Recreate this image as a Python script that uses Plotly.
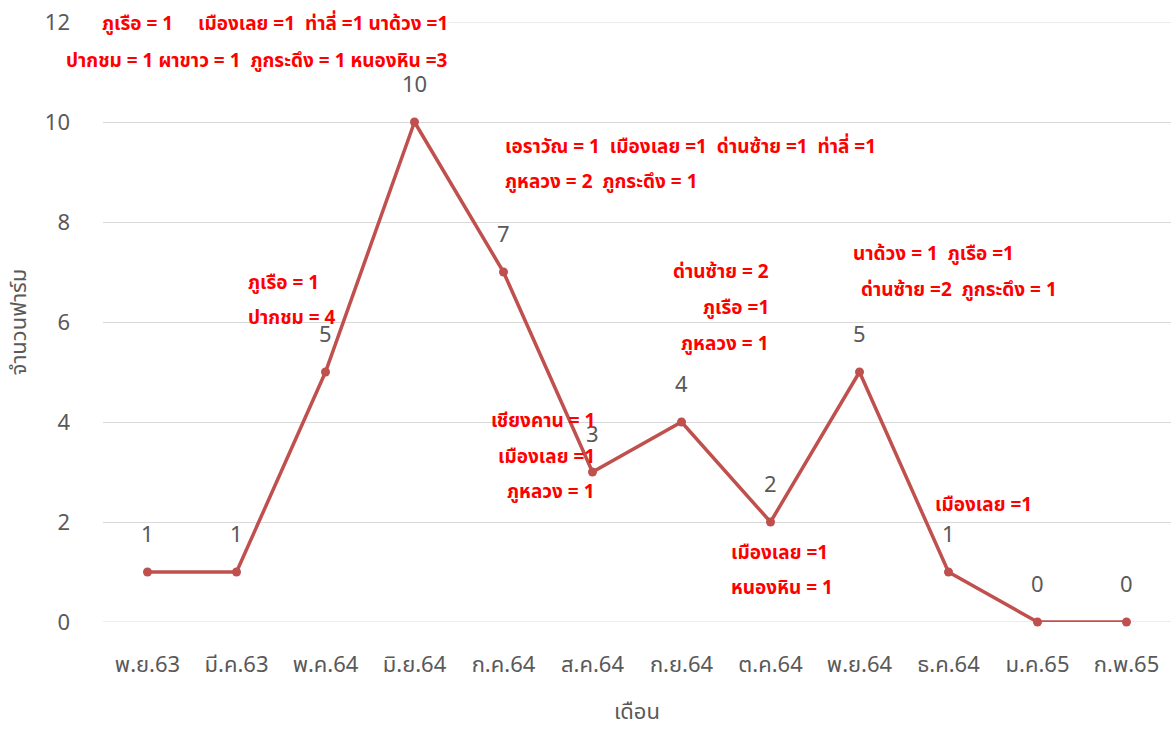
import plotly.graph_objects as go

months = ["พ.ย.63", "มี.ค.63", "พ.ค.64", "มิ.ย.64", "ก.ค.64", "ส.ค.64",
          "ก.ย.64", "ต.ค.64", "พ.ย.64", "ธ.ค.64", "ม.ค.65", "ก.พ.65"]
farms = [1, 1, 5, 10, 7, 3, 4, 2, 5, 1, 0, 0]
y_ticks = [0, 2, 4, 6, 8, 10, 12]

note_texts = [
    "ภูเรือ = 1     เมืองเลย =1  ท่าลี่ =1 นาด้วง =1",
    "ปากชม = 1 ผาขาว = 1  ภูกระดึง = 1 หนองหิน =3",
    "เอราวัณ = 1  เมืองเลย =1  ด่านซ้าย =1  ท่าลี่ =1",
    "ภูหลวง = 2  ภูกระดึง = 1",
    "ภูเรือ = 1",
    "ปากชม = 4",
    "เชียงคาน = 1",
    "เมืองเลย =1",
    "ภูหลวง = 1",
    "ด่านซ้าย = 2",
    "ภูเรือ =1",
    "ภูหลวง = 1",
    "นาด้วง = 1  ภูเรือ =1",
    "ด่านซ้าย =2  ภูกระดึง = 1",
    "เมืองเลย =1",
    "เมืองเลย =1",
    "หนองหิน = 1",
]
# anchor (x in category index, y in data units, horizontal anchor, white box)
note_anchor = [
    (3.39, 11.96, "right", True), (3.39, 11.22, "right", False),
    (4.01, 9.5, "left", False), (4.01, 8.8, "left", False),
    (1.12, 6.78, "left", False), (1.12, 6.08, "left", False),
    (5.04, 4.02, "right", False), (5.04, 3.3, "right", False), (5.04, 2.6, "right", False),
    (6.99, 7.0, "right", False), (6.99, 6.28, "right", False), (6.99, 5.56, "right", False),
    (7.92, 7.36, "left", False), (8.0, 6.64, "left", False),
    (8.84, 2.34, "left", False),
    (6.55, 1.38, "left", False), (6.55, 0.68, "left", False),
]

FONT = "Noto Sans Thai, Noto Sans, sans-serif"
GRAY = "#595959"
RED_LINE = "#C0504D"
GRID = "#D9D9D9"

fig = go.Figure()

# explicit gridlines at the range ends (plotly omits edge gridlines)
for yv in (y_ticks[0], y_ticks[-1]):
    fig.add_shape(type="line", xref="paper", yref="y", x0=0, x1=1, y0=yv, y1=yv,
                  line=dict(color=GRID, width=1.2), layer="below")

fig.add_trace(go.Scatter(
    x=list(range(len(months))), y=farms,
    mode="lines+markers",
    line=dict(color=RED_LINE, width=3.5),
    marker=dict(color=RED_LINE, size=9),
    cliponaxis=False,
    showlegend=False,
    hoverinfo="skip",
))

# data labels above each point
for i, v in enumerate(farms):
    fig.add_annotation(
        x=i, y=v, xref="x", yref="y", text=str(v), showarrow=False,
        yshift=37, xanchor="center", yanchor="middle", borderpad=0,
        font=dict(size=22, color=GRAY, family=FONT),
    )

for t, (ax, ay, anc, box) in zip(note_texts, note_anchor):
    fig.add_annotation(
        x=ax, y=ay, xref="x", yref="y", text="<b>" + t + "</b>", showarrow=False,
        xanchor=anc, yanchor="middle", borderpad=0,
        bgcolor="white" if box else "rgba(0,0,0,0)",
        font=dict(size=19, color="#FF0000", family=FONT),
    )

fig.update_layout(
    width=1171, height=729,
    margin=dict(l=103, r=0, t=22, b=107),
    paper_bgcolor="white", plot_bgcolor="white",
    font=dict(family=FONT, color=GRAY),
    xaxis=dict(
        tickmode="array", tickvals=list(range(len(months))), ticktext=months,
        range=[-0.5, len(months) - 0.5],
        showgrid=False, zeroline=False, showline=False,
        tickfont=dict(size=22, color=GRAY),
        ticklabelstandoff=27,
        title=dict(text="เดือน", font=dict(size=22, color=GRAY), standoff=34),
        automargin=False,
    ),
    yaxis=dict(
        range=[0, 12], tickvals=y_ticks,
        showgrid=True, gridcolor=GRID, gridwidth=1.2,
        zeroline=False, showline=False,
        tickfont=dict(size=22, color=GRAY),
        ticklabelstandoff=32,
        title=dict(text="จำนวนฟาร์ม", font=dict(size=22, color=GRAY), standoff=12),
        automargin=False,
    ),
)

fig.write_html("out.html", config={"displayModeBar": False},
               post_script="document.body.style.margin='0';")
